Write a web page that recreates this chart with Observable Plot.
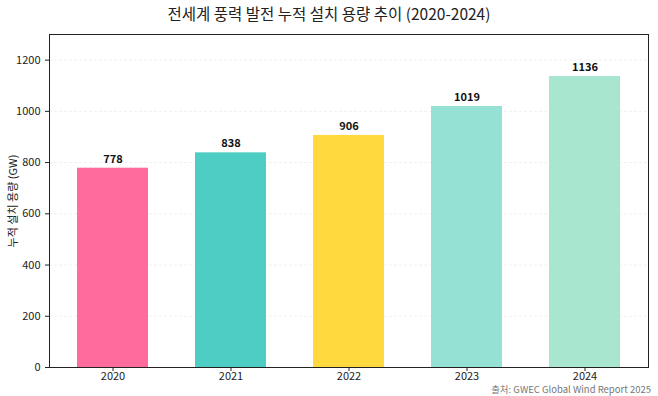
<!DOCTYPE html>
<html><head><meta charset="utf-8">
<script src="https://cdn.jsdelivr.net/npm/d3@7"></script>
<script src="https://cdn.jsdelivr.net/npm/@observablehq/plot@0.6"></script>
<style>
body{margin:0;width:658px;height:396px;position:relative;font-family:"Noto Sans CJK KR","Noto Sans",sans-serif;background:#fff;overflow:hidden}
#title{height:26px;line-height:26px;text-align:center;font-size:15.5px;font-weight:400;color:#222}
#cap{position:absolute;right:7px;top:384px;font-size:9.5px;color:#777;line-height:11px}
</style></head><body>
<div id="title">전세계 풍력 발전 누적 설치 용량 추이 (2020-2024)</div>
<div id="chart"></div>
<div id="cap">출처: GWEC Global Wind Report 2025</div>
<script>
const years = ["2020","2021","2022","2023","2024"];
const capacity = [778, 838, 906, 1019, 1136];
const colors = ["#FF6B9D","#4ECDC4","#FFD93D","#95E1D3","#A8E6CF"];
const yTicks = [0,200,400,600,800,1000,1200];
const yLabel = "누적 설치 용량 (GW)";

const data = years.map((y,i)=>({year:y, value:capacity[i]}));

const chart = Plot.plot({
  width:658, height:370,
  marginTop:8, marginBottom:29, marginLeft:49, marginRight:10,
  style:{fontFamily:'"Noto Sans CJK KR","Noto Sans",sans-serif', fontSize:"11px", color:"#222", background:"#fff"},
  x:{domain:years, paddingInner:0.4, paddingOuter:0.233, label:null},
  y:{domain:[0,1300], label:null},
  color:{domain:years, range:colors},
  marks:[
    Plot.gridY(yTicks, {stroke:"#e6e6e6", strokeOpacity:0.6, strokeDasharray:"3,2"}),
    Plot.barY(data, {x:"year", y:"value", fill:"year"}),
    Plot.text(data, {x:"year", y:"value", text:d=>String(d.value), dy:-9, fontWeight:"bold", fontSize:11, fill:"#111"}),
    Plot.axisX({tickSize:4, fontSize:11, tickPadding:1}),
    Plot.axisY(yTicks, {tickSize:4, fontSize:11, tickFormat:d3.format("d")}),
    Plot.text([yLabel], {frameAnchor:"left", rotate:-90, textAnchor:"middle", dx:-36, fontSize:11, fill:"#222"}),
    Plot.frame({stroke:"#222", strokeWidth:1})
  ]
});
document.getElementById("chart").appendChild(chart);
</script>
</body></html>
